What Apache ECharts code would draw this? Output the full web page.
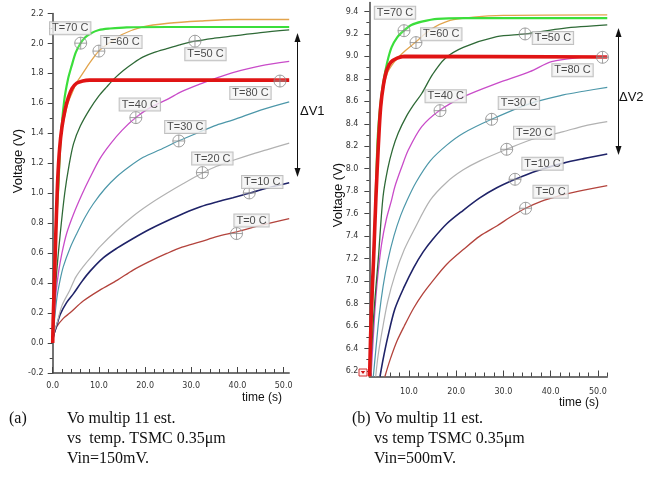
<!DOCTYPE html>
<html><head><meta charset="utf-8">
<script src="https://cdn.jsdelivr.net/npm/echarts@6/dist/echarts.min.js"></script>
<style>html,body{margin:0;padding:0;background:#fff}#c{width:663px;height:487px}</style>
</head><body><div id="c"></div>
<script>
// ---------- data ----------
const tempNames = ['T=0 C','T=10 C','T=20 C','T=30 C','T=40 C','T=50 C','T=60 C','T=70 C','T=80 C'];

// (a) Vin = 150 mV : [time (s), voltage (V)]
const leftT0  = [[0,0],[0.15,0.04],[0.9,0.11],[2.3,0.165],[3.7,0.2],[6.6,0.28],[10.2,0.353],[14,0.42],[17.4,0.487],[21,0.545],[24.7,0.598],[28,0.64],[31.9,0.675],[35.5,0.71],[39.8,0.742],[45,0.785],[51.2,0.83]];
const leftT10 = [[0,0],[0.2,0.05],[0.9,0.12],[1.6,0.19],[3,0.27],[4.5,0.33],[6.3,0.41],[8.1,0.48],[11,0.57],[14,0.635],[17.5,0.7],[21,0.76],[24.7,0.815],[28.3,0.865],[32,0.91],[35.5,0.942],[39,0.97],[42.5,1.0],[46.5,1.035],[51.2,1.07]];
const leftT20 = [[0,0],[0.2,0.06],[0.9,0.13],[2,0.25],[3.7,0.353],[5,0.44],[6.6,0.51],[8.5,0.58],[10.2,0.642],[13.85,0.753],[17.5,0.85],[21.1,0.93],[24.7,1.0],[28.3,1.065],[32.4,1.135],[35.5,1.18],[39.1,1.22],[43,1.26],[46.3,1.29],[51.2,1.335]];
const leftT30 = [[0,0],[0.2,0.09],[0.9,0.3],[1.6,0.42],[2.3,0.51],[3.7,0.63],[5.2,0.73],[7,0.84],[8.8,0.93],[11.3,1.03],[13.85,1.11],[16.7,1.18],[19.6,1.24],[23.2,1.29],[27.3,1.35],[31.9,1.41],[35.5,1.455],[39.1,1.49],[45,1.555],[51.2,1.61]];
const leftT40 = [[0,0],[0.2,0.12],[0.7,0.33],[1.3,0.48],[2,0.6],[3,0.73],[4.5,0.86],[6.3,0.99],[8,1.1],[10.2,1.23],[12.5,1.33],[15,1.42],[18,1.505],[21,1.57],[24.7,1.625],[28,1.68],[32,1.73],[36,1.775],[39,1.805],[45,1.85],[51.2,1.88]];
const leftT50 = [[0,0],[0.3,0.2],[0.8,0.45],[1.6,0.72],[2.6,1.0],[3.5,1.18],[4.5,1.33],[6,1.45],[8,1.56],[10,1.65],[11.7,1.71],[13.5,1.77],[15.3,1.82],[17.5,1.87],[19.6,1.91],[22,1.94],[24.7,1.965],[27.5,1.99],[30.8,2.015],[35,2.035],[39,2.05],[45,2.072],[51.2,2.09]];
const leftT60 = [[0,0],[0.15,0.2],[0.35,0.45],[0.6,0.72],[0.9,0.98],[1.3,1.2],[1.8,1.38],[2.5,1.5],[3.3,1.6],[4.2,1.67],[5.2,1.74],[6.5,1.8],[8,1.87],[10,1.95],[12.5,2.01],[15,2.06],[19.5,2.11],[25,2.135],[32,2.15],[40,2.16],[51.2,2.16]];
const leftT70 = [[0,0],[0.15,0.18],[0.35,0.42],[0.6,0.68],[0.9,0.88],[1.2,1.03],[1.7,1.35],[2.5,1.62],[3.3,1.76],[4.1,1.85],[5,1.94],[6,2.0],[7,2.04],[8.1,2.065],[10,2.09],[12.4,2.1],[16,2.108],[25,2.11],[51.2,2.11]];
const leftT80 = [[0,0],[0.1,0.15],[0.25,0.3],[0.5,0.55],[0.8,0.85],[1.1,1.1],[1.5,1.3],[2,1.44],[2.7,1.56],[3.4,1.64],[4.2,1.7],[5.2,1.735],[6.5,1.75],[8,1.755],[51.2,1.755]];

// (b) Vin = 500 mV : [time (s), voltage (V)]
const rightT0  = [[4.9,6.15],[6,6.3],[7.5,6.47],[9,6.6],[11,6.76],[13,6.89],[15,7.0],[18,7.15],[21.5,7.28],[25,7.4],[28.6,7.49],[31.5,7.57],[34.7,7.648],[38,7.71],[42,7.76],[46,7.8],[52,7.85]];
const rightT10 = [[3.86,6.15],[4.5,6.3],[5.5,6.5],[7,6.75],[9,6.95],[11,7.12],[13,7.26],[15,7.37],[18,7.51],[21.5,7.63],[25,7.74],[28.6,7.83],[32.5,7.906],[37,7.98],[42.7,8.05],[47,8.09],[52,8.131]];
const rightT20 = [[2.94,6.15],[3.5,6.35],[4.5,6.6],[5.5,6.82],[7,7.05],[9,7.28],[11,7.45],[14.5,7.72],[18,7.88],[21.5,7.99],[25,8.07],[30.7,8.173],[36,8.26],[42.7,8.33],[47,8.38],[52,8.42]];
const rightT30 = [[2.44,6.15],[3,6.4],[3.7,6.7],[4.5,6.95],[5.5,7.18],[6.8,7.4],[8.2,7.58],[9.6,7.72],[11.5,7.88],[14.5,8.07],[18,8.21],[21.5,8.316],[27.5,8.44],[35.6,8.58],[42.7,8.657],[47,8.69],[52,8.725]];
const rightT40 = [[1.95,6.15],[2.3,6.4],[2.8,6.75],[3.4,7.05],[4.2,7.33],[5.2,7.55],[6.3,7.72],[7,7.84],[8.5,8.02],[9.85,8.167],[12.7,8.375],[16.4,8.517],[21.5,8.64],[28.6,8.76],[35.6,8.864],[40.2,8.953],[46,8.99],[52,9.0]];
const rightT50 = [[1.74,6.15],[2.1,6.4],[2.5,6.68],[3,6.95],[3.5,7.2],[4.5,7.75],[5.5,8.0],[6.5,8.17],[7.7,8.316],[9.5,8.47],[11,8.57],[12.7,8.67],[15,8.84],[17.6,8.98],[21.5,9.08],[28.6,9.176],[34.6,9.2],[42.7,9.25],[52,9.28]];
const rightT60 = [[1.7,6.15],[2,6.68],[2.5,7.15],[3,7.7],[3.5,8.15],[4,8.5],[4.6,8.72],[5.5,8.86],[6.5,8.93],[7.7,8.99],[9.2,9.05],[11.3,9.123],[14.5,9.237],[18.7,9.32],[23.6,9.35],[30,9.365],[52,9.37]];
const rightT70 = [[1.75,6.15],[2.1,6.7],[2.6,7.3],[3,7.85],[3.4,8.3],[4,8.6],[4.6,8.78],[5.4,8.95],[6.3,9.08],[7.5,9.17],[8.9,9.229],[10.5,9.28],[12.7,9.31],[16,9.335],[22,9.34],[52,9.34]];
const rightT80 = [[1.65,6.15],[2,6.7],[2.5,7.2],[3,7.75],[3.5,8.2],[4,8.55],[4.6,8.75],[5.3,8.88],[6.2,8.95],[7.5,8.985],[9,9.0],[52,8.995]];

// marker positions (time, voltage) per temperature, same order as tempNames
const leftMarkT  = [39.8, 42.55, 32.4, 27.3, 18.0, 30.8, 10.0, 6.06, 49.2];
const leftMarkV  = [0.731, 1.002, 1.138, 1.349, 1.505, 2.015, 1.949, 2.002, 1.749];
const rightMarkT = [34.7, 32.46, 30.7, 27.5, 16.57, 34.6, 11.48, 8.94, 51.0];
const rightMarkV = [7.648, 7.906, 8.173, 8.44, 8.517, 9.2, 9.123, 9.229, 8.992];

// tick labels
const leftXTicks  = [0, 10, 20, 30, 40, 50];
const leftXMinor  = [2,4,6,8,12,14,16,18,22,24,26,28,32,34,36,38,42,44,46,48];
const leftYTicks  = [-0.2,0,0.2,0.4,0.6,0.8,1.0,1.2,1.4,1.6,1.8,2.0,2.2];
const leftYMinor  = [-0.1,0.1,0.3,0.5,0.7,0.9,1.1,1.3,1.5,1.7,1.9,2.1];
const rightXTicks = [10, 20, 30, 40, 50];
const rightXMinor = [2,4,6,8,12,14,16,18,22,24,26,28,32,34,36,38,42,44,46,48,52];
const rightYTicks = [6.2,6.4,6.6,6.8,7.0,7.2,7.4,7.6,7.8,8.0,8.2,8.4,8.6,8.8,9.0,9.2,9.4];
const rightYMinor = [6.3,6.5,6.7,6.9,7.1,7.3,7.5,7.7,7.9,8.1,8.3,8.5,8.7,8.9,9.1,9.3];

// ---------- styles ----------
const colors = ['#b3433c','#1f2368','#b2b2b2','#4c97a9','#c94cc9','#2f6a37','#e2a44c','#3bde3b','#e01414'];
const widths = [1.3,1.6,1.2,1.2,1.3,1.3,1.3,2.2,3.6];
const leftLabelOffsets  = [[15,-13],[13,-11],[10,-14],[6.5,-14],[4,-13],[10.5,13],[22.5,-9],[-10.5,-15],[-29.5,12]];
const rightLabelOffsets = [[25,-16.5],[27.5,-15.5],[27.5,-16.5],[27.3,-16.3],[5.7,-14.5],[27.8,4],[25.3,-8.4],[-9,-18],[-30,13]];

const leftSets  = [leftT0,leftT10,leftT20,leftT30,leftT40,leftT50,leftT60,leftT70,leftT80];
const rightSets = [rightT0,rightT10,rightT20,rightT30,rightT40,rightT50,rightT60,rightT70,rightT80];

const axisColor = '#444';
const tickFont = {fontSize: 8, color: '#333', fontFamily: 'DejaVu Sans'};

function mainX(gi, min, max, ticks, margin){
  return {type:'value', gridIndex:gi, min, max, position:'bottom',
    axisLine:{show:true,onZero:false,lineStyle:{color:axisColor,width:1.5}},
    axisTick:{show:true,inside:true,length:6,customValues:ticks,lineStyle:{color:axisColor,width:1}},
    axisLabel:Object.assign({show:true,customValues:ticks,margin,formatter:v=>v.toFixed(1)},tickFont),
    splitLine:{show:false}};
}
function minorX(gi, min, max, ticks){
  return {type:'value', gridIndex:gi, min, max, position:'bottom',
    axisLine:{show:false,onZero:false},
    axisTick:{show:true,inside:true,length:4,customValues:ticks,lineStyle:{color:axisColor,width:1}},
    axisLabel:{show:false}, splitLine:{show:false}};
}
function mainY(gi, min, max, ticks, margin){
  return {type:'value', gridIndex:gi, min, max, position:'left',
    axisLine:{show:true,onZero:false,lineStyle:{color:axisColor,width:1.5}},
    axisTick:{show:true,inside:false,length:5,customValues:ticks,lineStyle:{color:axisColor,width:1}},
    axisLabel:Object.assign({show:true,customValues:ticks,margin,formatter:v=>v.toFixed(1)},tickFont),
    splitLine:{show:false}};
}
function minorY(gi, min, max, ticks){
  return {type:'value', gridIndex:gi, min, max, position:'left',
    axisLine:{show:false,onZero:false},
    axisTick:{show:true,inside:false,length:3,customValues:ticks,lineStyle:{color:axisColor,width:1}},
    axisLabel:{show:false}, splitLine:{show:false}};
}

const L = {xmin:0, xmax:51.2, ymin:-0.2, ymax:2.2};
const R = {xmin:1.6, xmax:52, ymin:6.15, ymax:9.48};

const series = [];
function addLines(sets, xi, yi){
  sets.forEach((d,i)=>{
    series.push({type:'line', name:tempNames[i], xAxisIndex:xi, yAxisIndex:yi, data:d,
      smooth:0.3, showSymbol:false, symbol:'none', silent:true,
      lineStyle:{color:colors[i], width:widths[i]}, z: i===8 ? 4 : 3});
  });
}
addLines(leftSets, 0, 0);
addLines(rightSets, 2, 2);

const markerPath = 'path://M0,-6A6,6,0,1,1,0,6A6,6,0,1,1,0,-6ZM-6,0L6,0M0,-6L0,6';
function addMarkers(ts, vs, offsets, xi, yi){
  series.push({type:'scatter', xAxisIndex:xi, yAxisIndex:yi, symbol:markerPath, symbolSize:12, silent:true, z:6,
    itemStyle:{color:'rgba(255,255,255,0.15)', borderColor:'#8a8a8a', borderWidth:1},
    data: ts.map((t,i)=>({value:[t,vs[i]], label:{show:true, formatter:tempNames[i], position:'inside', offset:offsets[i]}})),
    label:{show:true, fontSize:11, fontFamily:'Liberation Sans', color:'#222', backgroundColor:'#f4f4f4',
      borderColor:'#b0b0b0', borderWidth:1, padding:[1,2,0,2], align:'center', verticalAlign:'middle'}
  });
}
addMarkers(leftMarkT, leftMarkV, leftLabelOffsets, 0, 0);
addMarkers(rightMarkT, rightMarkV, rightLabelOffsets, 2, 2);

function arrow(x, y1, y2){
  return {type:'group', children:[
    {type:'line', shape:{x1:x,y1:y1+6,x2:x,y2:y2-6}, style:{stroke:'#111',lineWidth:1}},
    {type:'polygon', shape:{points:[[x,y1],[x-3,y1+9],[x+3,y1+9]]}, style:{fill:'#111'}},
    {type:'polygon', shape:{points:[[x,y2],[x-3,y2-9],[x+3,y2-9]]}, style:{fill:'#111'}}
  ]};
}
function txt(text, x, y, size, family, extra){
  return Object.assign({type:'text', x, y, style:{text, fontSize:size, fontFamily:family, fill:'#111', align:'left', verticalAlign:'middle'}}, extra||{});
}
const sans = 'Liberation Sans';
const serif = 'Liberation Serif';

const graphics = [
  arrow(297.5, 33, 177),
  arrow(618.5, 28, 155),
  txt('\u0394V1', 300, 111, 13, sans),
  txt('\u0394V2', 619, 97, 13, sans),
  {type:'text', x:18, y:161, rotation:Math.PI/2, style:{text:'Voltage (V)', fontSize:13, fontFamily:sans, fill:'#111', align:'center', verticalAlign:'middle'}},
  {type:'text', x:338, y:195, rotation:Math.PI/2, style:{text:'Voltage (V)', fontSize:13, fontFamily:sans, fill:'#111', align:'center', verticalAlign:'middle'}},
  {type:'text', x:262, y:398, style:{text:'time (s)', fontSize:12, fontFamily:sans, fill:'#111', align:'center', verticalAlign:'middle'}},
  {type:'text', x:579, y:403, style:{text:'time (s)', fontSize:12, fontFamily:sans, fill:'#111', align:'center', verticalAlign:'middle'}},
  txt('(a)', 9, 419, 16, serif),
  txt('Vo multip 11 est.', 67, 419, 16, serif),
  txt('vs  temp. TSMC 0.35\u03bcm', 67, 439, 16, serif),
  txt('Vin=150mV.', 67, 459, 16, serif),
  txt('(b) Vo multip 11 est.', 352, 419, 16, serif),
  txt('vs temp TSMC 0.35\u03bcm', 374, 439, 16, serif),
  txt('Vin=500mV.', 374, 459, 16, serif),
  {type:'rect', shape:{x:359,y:369,width:8,height:7}, style:{fill:'#fff0f0', stroke:'#d03030', lineWidth:1}, z:10},
  {type:'polygon', shape:{points:[[360.8,371],[365.2,371],[363,374]]}, style:{fill:'#d01010'}, z:11}
];

const option = {
  animation:false,
  backgroundColor:'#fff',
  grid:[
    {left:52.7, top:13.5, width:236.5, height:359.5, containLabel:false},
    {left:369.35, top:2.5, width:237.9, height:374, containLabel:false}
  ],
  xAxis:[
    mainX(0, L.xmin, L.xmax, leftXTicks, 9),
    minorX(0, L.xmin, L.xmax, leftXMinor),
    mainX(1, R.xmin, R.xmax, rightXTicks, 11),
    minorX(1, R.xmin, R.xmax, rightXMinor)
  ],
  yAxis:[
    mainY(0, L.ymin, L.ymax, leftYTicks, 9),
    minorY(0, L.ymin, L.ymax, leftYMinor),
    mainY(1, R.ymin, R.ymax, rightYTicks, 11),
    minorY(1, R.ymin, R.ymax, rightYMinor)
  ],
  series,
  graphic: graphics
};
const chart = echarts.init(document.getElementById('c'), null, {renderer:'canvas'});
chart.setOption(option);
</script>
</body></html>
